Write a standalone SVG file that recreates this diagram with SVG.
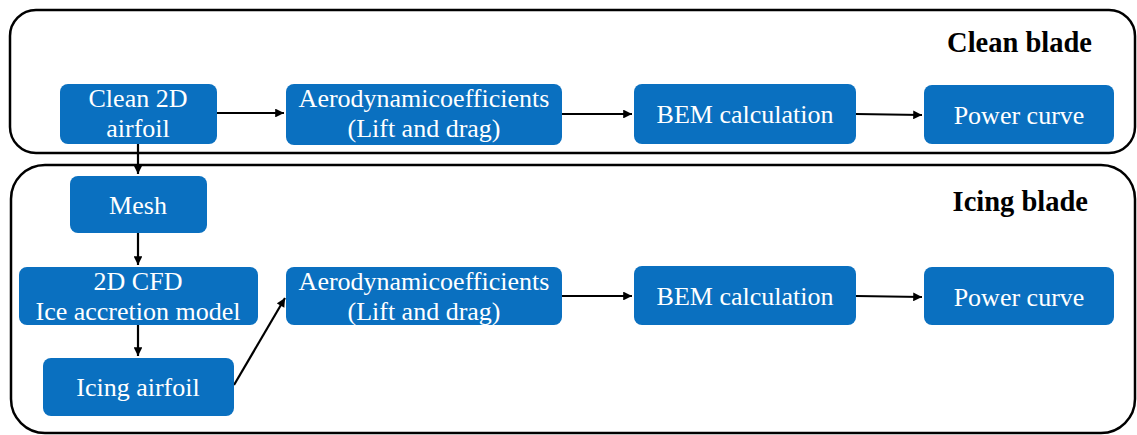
<svg xmlns="http://www.w3.org/2000/svg" width="1137" height="435" viewBox="0 0 1137 435">
<defs>
<style>
text{font-family:"Liberation Serif","Times New Roman",Times,serif}
.cont{fill:none;stroke:#000;stroke-width:2.5}
.box{fill:#0A70C0}
.t{font-size:26px;fill:#fff;text-anchor:middle}
.h{font-size:28.5px;font-weight:bold;fill:#000;text-anchor:end}
.c{fill:none;stroke:#000;stroke-width:2.2}
</style>
<marker id="ah" viewBox="0 0 10 10" refX="10" refY="5" markerWidth="4.5" markerHeight="4" orient="auto" markerUnits="strokeWidth">
<path d="M0,0 L10,5 L0,10 z" fill="#000"/>
</marker>
</defs>
<rect width="1137" height="435" fill="#fff"/>
<g id="clean-container">
<rect class="cont" x="10" y="10" width="1125" height="143" rx="26"/>
<text class="h" x="1092" y="52">Clean blade</text>
</g>
<g id="icing-container">
<rect class="cont" x="11" y="165" width="1124" height="268" rx="34"/>
<text class="h" x="1088" y="211">Icing blade</text>
</g>
<g id="connectors">
<path class="c" d="M217,113 H284" marker-end="url(#ah)"/>
<path class="c" d="M562,114 H632" marker-end="url(#ah)"/>
<path class="c" d="M856,114 L922,115" marker-end="url(#ah)"/>
<path class="c" d="M138,143 V174" marker-end="url(#ah)"/>
<path class="c" d="M138,233 V265" marker-end="url(#ah)"/>
<path class="c" d="M138,325 V356" marker-end="url(#ah)"/>
<path class="c" d="M234,385 L285,298" marker-end="url(#ah)"/>
<path class="c" d="M562,296 H632" marker-end="url(#ah)"/>
<path class="c" d="M856,296 L922,297" marker-end="url(#ah)"/>
</g>
<g id="clean-airfoil">
<rect class="box" x="60" y="84" width="157" height="60" rx="8"/>
<text class="t" x="138" y="107">Clean 2D</text>
<text class="t" x="138" y="137">airfoil</text>
</g>
<g id="aero-clean">
<rect class="box" x="286" y="84" width="276" height="61" rx="8"/>
<text class="t" x="424" y="107">Aerodynamicoefficients</text>
<text class="t" x="424" y="137">(Lift and drag)</text>
</g>
<g id="bem-clean">
<rect class="box" x="634" y="84" width="222" height="60" rx="8"/>
<text class="t" x="745" y="123">BEM calculation</text>
</g>
<g id="power-clean">
<rect class="box" x="924" y="85" width="190" height="59" rx="8"/>
<text class="t" x="1019" y="124">Power curve</text>
</g>
<g id="mesh">
<rect class="box" x="70" y="176" width="137" height="57" rx="8"/>
<text class="t" x="138" y="214">Mesh</text>
</g>
<g id="cfd">
<rect class="box" x="19" y="267" width="239" height="58" rx="8"/>
<text class="t" x="138" y="290">2D CFD</text>
<text class="t" x="138" y="320">Ice accretion model</text>
</g>
<g id="icing-airfoil">
<rect class="box" x="43" y="358" width="191" height="58" rx="8"/>
<text class="t" x="138" y="396">Icing airfoil</text>
</g>
<g id="aero-icing">
<rect class="box" x="286" y="267" width="276" height="58" rx="8"/>
<text class="t" x="424" y="290">Aerodynamicoefficients</text>
<text class="t" x="424" y="320">(Lift and drag)</text>
</g>
<g id="bem-icing">
<rect class="box" x="634" y="266" width="222" height="59" rx="8"/>
<text class="t" x="745" y="305">BEM calculation</text>
</g>
<g id="power-icing">
<rect class="box" x="924" y="267" width="190" height="58" rx="8"/>
<text class="t" x="1019" y="306">Power curve</text>
</g>
</svg>
